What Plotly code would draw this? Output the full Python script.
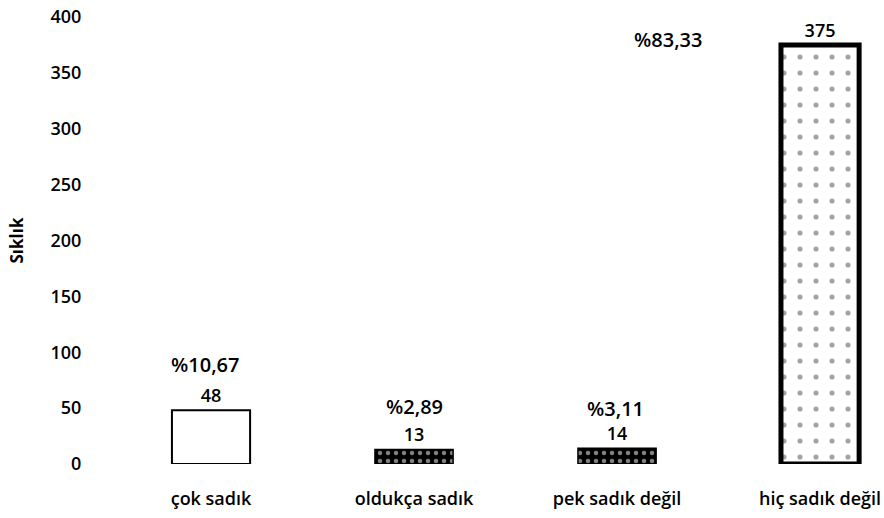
import plotly.graph_objects as go

categories = ["çok sadık", "oldukça sadık", "pek sadık değil", "hiç sadık değil"]
counts = [48, 13, 14, 375]
percent_labels = ["%10,67", "%2,89", "%3,11", "%83,33"]
y_ticks = [0, 50, 100, 150, 200, 250, 300, 350, 400]

FONT = "Open Sans"
W = 600

fill_bg = ["white", "black", "black", "white"]
fill_fg = ["white", "white", "white", "black"]
fill_shape = ["", ".", ".", "."]
fill_size = [9, 8, 8, 16]
fill_solid = [0.2, 0.25, 0.25, 0.08]
line_w = [2, 1.5, 1.5, 5]

fig = go.Figure()
fig.add_trace(go.Bar(
    x=categories, y=counts,
    width=0.385,
    text=[str(v) for v in counts],
    textposition="outside",
    constraintext="none",
    textfont=dict(family=FONT, size=18, color="black", weight=W),
    cliponaxis=False,
    marker=dict(
        color=fill_bg,
        line=dict(color="black", width=line_w),
        pattern=dict(shape=fill_shape, fgcolor=fill_fg, bgcolor=fill_bg,
                     size=fill_size, solidity=fill_solid, fillmode="overlay"),
    ),
    showlegend=False,
))

# percent annotations
shifts = [(-6, 46), (0, 43), (-2, 40)]
for i in range(3):
    fig.add_annotation(x=categories[i], y=counts[i], text=percent_labels[i],
                       showarrow=False, xshift=shifts[i][0], yshift=shifts[i][1],
                       font=dict(family=FONT, size=20, color="black", weight=W))
fig.add_annotation(x=categories[3], y=counts[3], text=percent_labels[3],
                   showarrow=False, xshift=-152, yshift=5,
                   font=dict(family=FONT, size=20, color="black", weight=W))

fig.update_layout(
    width=884, height=518,
    margin=dict(l=88, r=0, t=17, b=54),
    plot_bgcolor="white", paper_bgcolor="white",
    font=dict(family=FONT, size=18, color="black"),
    xaxis=dict(range=[-0.606, 3.315], showline=False, showgrid=False,
               ticks="outside", ticklen=18, tickcolor="white",
               tickfont=dict(family=FONT, size=18, color="black", weight=W)),
    yaxis=dict(range=[0, 400], tickvals=y_ticks, showline=False, showgrid=False,
               zeroline=False, ticks="outside", ticklen=2, tickcolor="white",
               tickfont=dict(family=FONT, size=18, color="black", weight=W),
               title=dict(text="<b>Sıklık</b>", standoff=22,
                          font=dict(family=FONT, size=17, color="black"))),
)

fig.write_html("out.html", config={"displayModeBar": False},
               post_script="document.body.style.margin='0';")
